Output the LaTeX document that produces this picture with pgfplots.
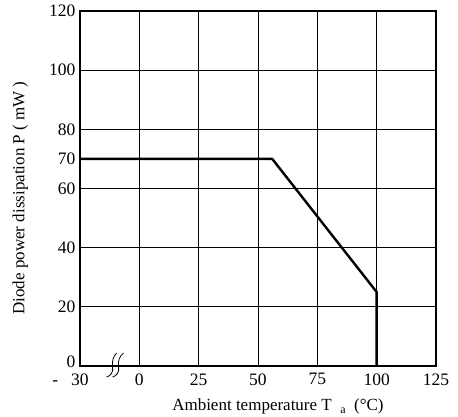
\documentclass[border=0pt]{standalone}
\usepackage{fontspec}
\setmainfont{Liberation Serif}
\usepackage{pgfplots}
\usetikzlibrary{calc}
\pgfplotsset{compat=1.18}
\begin{document}
\begin{tikzpicture}
\begin{axis}[
  scale only axis, width=356pt, height=355pt,
  xmin=-25, xmax=125, ymin=0, ymax=120,
  xtick={-25,0,25,50,75,100,125},
  xticklabels={\llap{-\ \ \ }30,0,25,50,75,100,125},
  ytick={0,20,40,60,70,80,100,120},
  yticklabels={\raisebox{9pt}{0},20,40,60,70,80,100,120},
  grid=none,
  major tick length=0pt,
  axis line style={line width=1.3pt},
  ticklabel style={font=\fontsize{17.5}{19}\selectfont},
  /pgf/number format/assume math mode=true,
  xticklabel style={yshift=-4pt},
  yticklabel style={xshift=-1pt},
  xlabel={Ambient temperature T\ \ \raisebox{-0.5ex}{\fontsize{12}{14}\selectfont a}\ \ (\textdegree C)},
  ylabel={Diode power dissipation P ( mW )},
  label style={font=\fontsize{17}{19}\selectfont},
  xlabel style={at={(axis description cs:0.556,-0.113)}, anchor=center},
  ylabel style={at={(axis description cs:-0.168,0.473)}, anchor=center},
  clip=false,
]
\foreach \xx in {0,25,50,75,100} {\edef\tmp{\noexpand\draw[line width=0.7pt] (axis cs:\xx,0) -- (axis cs:\xx,120);}\tmp}
\foreach \yy in {20,40,60,80,100} {\edef\tmp{\noexpand\draw[line width=0.7pt] (axis cs:-25,\yy) -- (axis cs:125,\yy);}\tmp}
\addplot[black, line width=2.4pt, line join=round] coordinates {(-25,70) (56,70) (100,25) (100,0)};
\coordinate (brk) at (axis cs:-10,0);
\coordinate (SW) at (axis cs:-25,0);
\coordinate (NE) at (axis cs:125,120);
\end{axis}
\begin{scope}[shift={(brk)}]
\draw[line width=0.8pt] (-9pt,-11pt) .. controls (-5pt,-10pt) and (-2pt,-6pt) .. (-3pt,-1pt) .. controls (-4pt,5pt) and (-2pt,10pt) .. (1pt,13pt);
\draw[line width=0.8pt] (-3pt,-11pt) .. controls (1pt,-10pt) and (4pt,-6pt) .. (3pt,-1pt) .. controls (2pt,5pt) and (4pt,10pt) .. (8pt,13pt);
\end{scope}
\pgfresetboundingbox
\useasboundingbox ($(SW)+(-80pt,-51pt)$) rectangle ($(NE)+(22pt,11pt)$);
\end{tikzpicture}
\end{document}
